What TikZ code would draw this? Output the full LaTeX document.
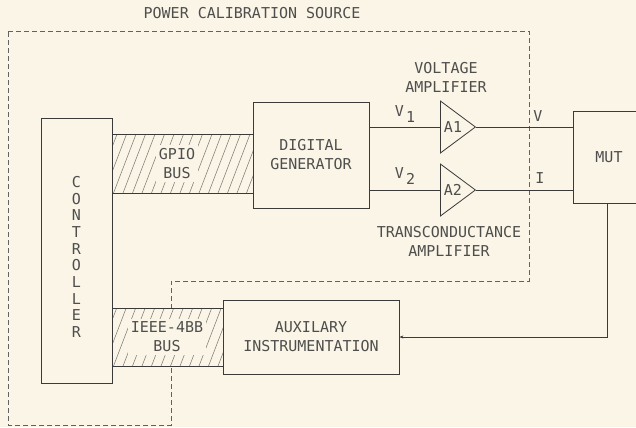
\documentclass[tikz,border=0pt]{standalone}
\usepackage{fontspec}
\setmainfont{DejaVu Sans Mono}
\usetikzlibrary{arrows.meta,calc,positioning,shapes.geometric}
\definecolor{paper}{HTML}{FBF5E8}
\definecolor{ink}{HTML}{3A3A38}
\definecolor{hatchc}{HTML}{7E7C75}
\tikzset{
    myblock/.style={draw=ink,line width=0.8bp,fill=paper,inner sep=0pt},
    mybus/.style={draw=ink,line width=0.7bp,fill=paper,inner sep=0pt,
      path picture={\foreach \k in {-4,...,16}{
        \draw[hatchc,line width=0.55bp] ([xshift=\k*9.5bp,yshift=-4bp]path picture bounding box.south west) -- ++(26bp,68bp);}}},
    myamp/.style={isosceles triangle,isosceles triangle stretches,shape border rotate=0,
      draw=ink,line width=0.8bp,fill=paper,inner sep=0pt,
      minimum width=52bp,minimum height=35bp,anchor=lower side},
    mywire/.style={draw=ink,line width=0.8bp},
    mydash/.style={draw=ink!80,line width=0.6bp,dash pattern=on 5bp off 3bp},
    mytext/.style={text=ink!90,align=center,inner sep=1pt,font=\fontsize{15bp}{19bp}\selectfont}
}
\begin{document}
\begin{tikzpicture}[x=1bp,y=-1bp]
  \fill[paper] (0,0) rectangle (636,427);
  \clip (0,0) rectangle (636,427);

  % power calibration source boundary
  \draw[mydash] (8,31) -- (529,31) -- (529,281) -- (171,281) -- (171,425) -- (8,425) -- cycle;
  \node[mytext] (title) at (252,13.5) {POWER CALIBRATION SOURCE};

  % controller
  \node[myblock,minimum width=71bp,minimum height=265bp] (ctrl) at (76.5,250.5) {};
  \node[mytext,font=\fontsize{15bp}{16.67bp}\selectfont] (ctrltxt) at (76.5,257) {C\\O\\N\\T\\R\\O\\L\\L\\E\\R};

  % buses
  \node[mybus,minimum width=141bp,minimum height=59bp] (gpio) at (182.5,163.5) {};
  \node[mytext,fill=paper,inner sep=3bp] (gpiotxt) at (177,163.5) {GPIO\\BUS};
  \node[mybus,minimum width=111bp,minimum height=58bp] (ieee) at (167.5,337) {};
  \node[mytext,fill=paper,inner sep=3bp] (ieeetxt) at (167,337) {IEEE-4BB\\BUS};

  % generator, amplifiers, MUT
  \node[myblock,mytext,minimum width=116bp,minimum height=106bp] (gen) at (311,155) {DIGITAL\\GENERATOR};
  \node[myamp,mytext,inner sep=0pt] (a1) at (440,127) {A1};
  \node[myamp,mytext,inner sep=0pt] (a2) at (440,190) {A2};
  \node[myblock,mytext,minimum width=72bp,minimum height=92bp] (mut) at (609,157) {MUT};
  \node[myblock,mytext,minimum width=176bp,minimum height=74bp] (aux) at (311,337) {AUXILARY\\INSTRUMENTATION};

  \node[mytext] (vamp) at (446,77.5) {VOLTAGE\\AMPLIFIER};
  \node[mytext] (tamp) at (449,241.5) {TRANSCONDUCTANCE\\AMPLIFIER};

  % signal lines
  \draw[mywire] (gen.east |- a1.lower side) -- (a1.lower side);
  \draw[mywire] (gen.east |- a2.lower side) -- (a2.lower side);
  \draw[mywire] (a1.apex) -- (a1.apex -| mut.west);
  \draw[mywire] (a2.apex) -- (a2.apex -| mut.west);
  \draw[mywire,-{Stealth[length=4bp,width=3bp]}] ([xshift=-2bp]mut.south) |- (aux.east);

  \node[mytext] (v1) at (405,114) {V\hspace{2bp}\raisebox{-6bp}{1}};
  \node[mytext] (v2) at (405,176) {V\hspace{2bp}\raisebox{-6bp}{2}};
  \node[mytext] (vout) at (538,116) {V};
  \node[mytext] (iout) at (540,178) {I};
\end{tikzpicture}
\end{document}
